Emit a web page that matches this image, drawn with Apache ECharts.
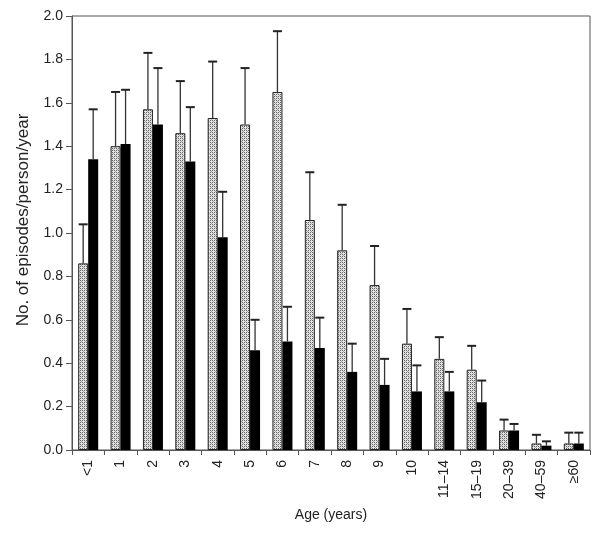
<!DOCTYPE html>
<html>
<head>
<meta charset="utf-8">
<script src="https://cdn.jsdelivr.net/npm/echarts@6/dist/echarts.min.js"></script>
<style>
html,body{margin:0;padding:0;background:#fff;}
#chart{width:600px;height:533px;}
</style>
</head>
<body>
<div id="chart"></div>
<script>
var categories = ['<1','1','2','3','4','5','6','7','8','9','10','11\u201314','15\u201319','20\u201339','40\u201359','\u226560'];
var dottedMean  = [0.86,1.40,1.57,1.46,1.53,1.50,1.65,1.06,0.92,0.76,0.49,0.42,0.37,0.09,0.03,0.03];
var dottedUpper = [1.04,1.65,1.83,1.70,1.79,1.76,1.93,1.28,1.13,0.94,0.65,0.52,0.48,0.14,0.07,0.08];
var blackMean   = [1.34,1.41,1.50,1.33,0.98,0.46,0.50,0.47,0.36,0.30,0.27,0.27,0.22,0.09,0.02,0.03];
var blackUpper  = [1.57,1.66,1.76,1.58,1.19,0.60,0.66,0.61,0.49,0.42,0.39,0.36,0.32,0.12,0.04,0.08];
var yTicks = [0,0.2,0.4,0.6,0.8,1.0,1.2,1.4,1.6,1.8,2.0];

var BW = 10;
function makePattern(){
  var c = document.createElement('canvas');
  c.width = 4; c.height = 4;
  var g = c.getContext('2d');
  g.fillStyle = '#e2e2e2'; g.fillRect(0,0,4,4);
  g.fillStyle = '#666666';
  g.fillRect(0,0,1,1); g.fillRect(2,2,1,1); g.fillRect(2,0,1,1); g.fillRect(0,2,1,1);
  g.fillStyle = '#aaaaaa';
  g.fillRect(1,1,1,1); g.fillRect(3,3,1,1);
  return c;
}
var pattern = makePattern();

function errData(mean, upper){
  return mean.map(function(m,i){ return [i, upper[i], m]; });
}
function errRender(offset){
  return function(params, api){
    var i = api.value(0);
    var top = api.coord([i, api.value(1)]);
    var base = api.coord([i, api.value(2)]);
    var x = top[0] + offset;
    return {type:'group', children:[
      {type:'line', shape:{x1:x,y1:base[1],x2:x,y2:top[1]}, style:{stroke:'#333',lineWidth:1.3}},
      {type:'line', shape:{x1:x-4.5,y1:top[1],x2:x+4.5,y2:top[1]}, style:{stroke:'#222',lineWidth:2}}
    ]};
  };
}

var chart = echarts.init(document.getElementById('chart'), null, {renderer:'canvas'});
chart.setOption({
  animation:false,
  backgroundColor:'#fff',
  textStyle:{fontFamily:'Liberation Sans, Arial, sans-serif', color:'#222'},
  grid:{left:72,right:10,top:16,bottom:83,show:true,borderColor:'#555',borderWidth:1,backgroundColor:'transparent'},
  xAxis:{
    type:'category', data:categories,
    name:'Age (years)', nameLocation:'middle', nameGap:58,
    nameTextStyle:{fontSize:14,color:'#222'},
    axisLine:{lineStyle:{color:'#555',width:1}},
    axisTick:{show:true,length:5,lineStyle:{color:'#555'}},
    axisLabel:{rotate:90,fontSize:14,color:'#222',margin:10}
  },
  yAxis:{
    type:'value', min:0, max:2, interval:0.2,
    name:'No. of episodes/person/year', nameLocation:'middle', nameGap:40,
    nameTextStyle:{fontSize:17,color:'#222',padding:[0,0,0,26]},
    splitLine:{show:false},
    axisLine:{show:true,lineStyle:{color:'#555',width:1}},
    axisTick:{show:true,length:6,lineStyle:{color:'#555'}},
    axisLabel:{fontSize:14,color:'#222',margin:9,formatter:function(v){return v.toFixed(1);}}
  },
  series:[
    {type:'bar', data:dottedMean, barWidth:BW, barGap:'0%',
     itemStyle:{color:{image:pattern,repeat:'repeat'},borderColor:'#222',borderWidth:1}},
    {type:'bar', data:blackMean, barWidth:BW, barGap:'0%',
     itemStyle:{color:'#000'}},
    {type:'custom', data:errData(dottedMean,dottedUpper), renderItem:errRender(-BW/2), encode:{x:0,y:1}, z:5},
    {type:'custom', data:errData(blackMean,blackUpper), renderItem:errRender(BW/2), encode:{x:0,y:1}, z:5}
  ]
});
</script>
</body>
</html>
